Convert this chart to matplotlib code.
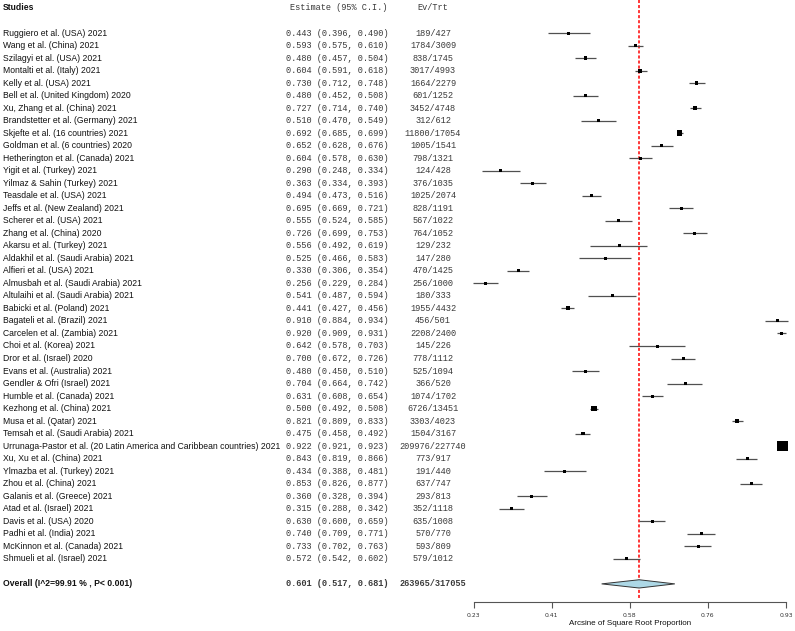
import numpy as np
import matplotlib
matplotlib.use("Agg")
import matplotlib.pyplot as plt
import matplotlib.transforms as mtransforms

studies = [
    "Ruggiero et al. (USA) 2021", "Wang et al. (China) 2021", "Szilagyi et al. (USA) 2021",
    "Montalti et al. (Italy) 2021", "Kelly et al. (USA) 2021", "Bell et al. (United Kingdom) 2020",
    "Xu, Zhang et al. (China) 2021", "Brandstetter et al. (Germany) 2021",
    "Skjefte et al. (16 countries) 2021", "Goldman et al. (6 countries) 2020",
    "Hetherington et al. (Canada) 2021", "Yigit et al. (Turkey) 2021",
    "Yilmaz & Sahin (Turkey) 2021", "Teasdale et al. (USA) 2021",
    "Jeffs et al. (New Zealand) 2021", "Scherer et al. (USA) 2021", "Zhang et al. (China) 2020",
    "Akarsu et al. (Turkey) 2021", "Aldakhil et al. (Saudi Arabia) 2021",
    "Alfieri et al. (USA) 2021", "Almusbah et al. (Saudi Arabia) 2021",
    "Altulaihi et al. (Saudi Arabia) 2021", "Babicki et al. (Poland) 2021",
    "Bagateli et al. (Brazil) 2021", "Carcelen et al. (Zambia) 2021", "Choi et al. (Korea) 2021",
    "Dror et al. (Israel) 2020", "Evans et al. (Australia) 2021",
    "Gendler & Ofri (Israel) 2021", "Humble et al. (Canada) 2021",
    "Kezhong et al. (China) 2021", "Musa et al. (Qatar) 2021",
    "Temsah et al. (Saudi Arabia) 2021",
    "Urrunaga-Pastor et al. (20 Latin America and Caribbean countries) 2021",
    "Xu, Xu et al. (China) 2021", "Ylmazba et al. (Turkey) 2021", "Zhou et al. (China) 2021",
    "Galanis et al. (Greece) 2021", "Atad et al. (Israel) 2021", "Davis et al. (USA) 2020",
    "Padhi et al. (India) 2021", "McKinnon et al. (Canada) 2021", "Shmueli et al. (Israel) 2021",
]
est = [0.443, 0.593, 0.480, 0.604, 0.730, 0.480, 0.727, 0.510, 0.692, 0.652, 0.604, 0.290,
       0.363, 0.494, 0.695, 0.555, 0.726, 0.556, 0.525, 0.330, 0.256, 0.541, 0.441, 0.910,
       0.920, 0.642, 0.700, 0.480, 0.704, 0.631, 0.500, 0.821, 0.475, 0.922, 0.843, 0.434,
       0.853, 0.360, 0.315, 0.630, 0.740, 0.733, 0.572]
lower = [0.396, 0.575, 0.457, 0.591, 0.712, 0.452, 0.714, 0.470, 0.685, 0.628, 0.578, 0.248,
         0.334, 0.473, 0.669, 0.524, 0.699, 0.492, 0.466, 0.306, 0.229, 0.487, 0.427, 0.884,
         0.909, 0.578, 0.672, 0.450, 0.664, 0.608, 0.492, 0.809, 0.458, 0.921, 0.819, 0.388,
         0.826, 0.328, 0.288, 0.600, 0.709, 0.702, 0.542]
upper = [0.490, 0.610, 0.504, 0.618, 0.748, 0.508, 0.740, 0.549, 0.699, 0.676, 0.630, 0.334,
         0.393, 0.516, 0.721, 0.585, 0.753, 0.619, 0.583, 0.354, 0.284, 0.594, 0.456, 0.934,
         0.931, 0.703, 0.726, 0.510, 0.742, 0.654, 0.508, 0.833, 0.492, 0.923, 0.866, 0.481,
         0.877, 0.394, 0.342, 0.659, 0.771, 0.763, 0.602]
events = [189, 1784, 838, 3017, 1664, 601, 3452, 312, 11800, 1005, 798, 124, 376, 1025, 828,
          567, 764, 129, 147, 470, 256, 180, 1955, 456, 2208, 145, 778, 525, 366, 1074, 6726,
          3303, 1504, 209976, 773, 191, 637, 293, 352, 635, 570, 593, 579]
totals = [427, 3009, 1745, 4993, 2279, 1252, 4748, 612, 17054, 1541, 1321, 428, 1035, 2074,
          1191, 1022, 1052, 232, 280, 1425, 1000, 333, 4432, 501, 2400, 226, 1112, 1094, 520,
          1702, 13451, 4023, 3167, 227740, 917, 440, 747, 813, 1118, 1008, 770, 809, 1012]

overall_label = "Overall (I^2=99.91 % , P< 0.001)"
overall_est, overall_lo, overall_hi = 0.601, 0.517, 0.681
overall_ev, overall_tot = 263965, 317055

tick_lo, tick_hi = 0.23, 0.93
xlabel = "Arcsine of Square Root Proportion"

W, H = 795, 631
fig = plt.figure(figsize=(W / 100, H / 100), dpi=100)
ax = fig.add_axes([0, 0, 1, 1])

# pixel layout
row_px, first_px = 12.52, 33.0
x0_px, x1_px = 473.5, 786.0
scale = (x1_px - x0_px) / (tick_hi - tick_lo)
ax.set_xlim(tick_lo - x0_px / scale, tick_hi + (W - x1_px) / scale)
ax.set_ylim((H - first_px) / row_px, -first_px / row_px)

n = len(studies)
rows = np.arange(n)
overall_row = n + 1
axis_row = (602 - first_px) / row_px

tr = mtransforms.blended_transform_factory(fig.transFigure, ax.transData)
name_kw = dict(family="Liberation Sans", fontsize=6.2, va="center", transform=tr, color="#111111")
mono_kw = dict(family="Liberation Mono", fontsize=6.2, va="center", transform=tr, color="#3a3a3a")

ax.text(3 / W, -2, "Studies", fontweight="bold", **name_kw)
ax.text(339 / W, -2, "Estimate (95% C.I.)", ha="center", **mono_kw)
ax.text(433 / W, -2, "Ev/Trt", ha="center", **mono_kw)

for i in range(n):
    ax.text(3 / W, i, studies[i], **name_kw)
    ax.text(285.5 / W, i, f"{est[i]:.3f} ({lower[i]:.3f}, {upper[i]:.3f})", **mono_kw)
    ax.text(433 / W, i, f"{events[i]}/{totals[i]}", ha="center", **mono_kw)

ax.text(3 / W, overall_row, overall_label, fontweight="bold", **name_kw)
ax.text(285.5 / W, overall_row, f"{overall_est:.3f} ({overall_lo:.3f}, {overall_hi:.3f})",
        fontweight="bold", **mono_kw)
ax.text(433 / W, overall_row, f"{overall_ev}/{overall_tot}", ha="center", fontweight="bold",
        **mono_kw)

# overall line
ax.vlines(overall_est, -first_px / row_px, axis_row - 0.2, color="red", lw=1.1,
          linestyles=(0, (2, 1.3)), zorder=1)

# confidence intervals and squares
ax.hlines(rows, lower, upper, color="#505050", lw=0.9, zorder=2)
side_px = np.clip(10.5 * (np.array(totals) / max(totals)) ** 0.25, 3.0, None)
ax.scatter(est, rows, marker="s", s=(side_px * 0.72) ** 2, color="black", lw=0, zorder=3)

# diamond
h = 0.33
ax.fill([overall_lo, overall_est, overall_hi, overall_est],
        [overall_row, overall_row - h, overall_row, overall_row + h],
        facecolor="#add8e6", edgecolor="#333333", lw=0.7, zorder=4)

# bottom axis
for s in ["top", "left", "right"]:
    ax.spines[s].set_visible(False)
ax.spines["bottom"].set_position(("data", axis_row))
ax.spines["bottom"].set_bounds(tick_lo, tick_hi)
ax.spines["bottom"].set_color("#555555")
ax.spines["bottom"].set_linewidth(0.8)
ticks = np.linspace(tick_lo, tick_hi, 5)
ax.set_xticks(ticks)
ax.set_xticklabels([f"{t:.2f}" for t in ticks])
ax.tick_params(axis="x", direction="out", length=4, width=0.8, color="#555555",
               labelsize=4.4, labelcolor="#333333", pad=4)
ax.set_yticks([])
ax.text(0.58, axis_row + 1.7, xlabel, ha="center", va="center", family="Liberation Sans",
        fontsize=5.8, color="#111111")

fig.savefig("out.png", dpi=100)
